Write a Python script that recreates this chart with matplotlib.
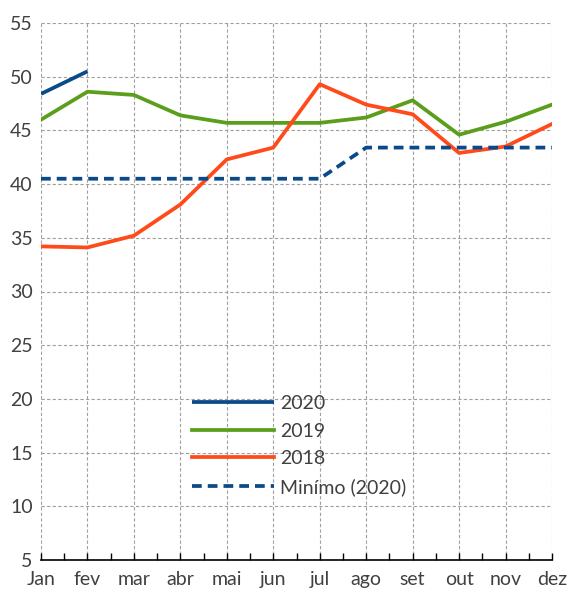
import matplotlib
matplotlib.use("Agg")
import matplotlib.pyplot as plt
import numpy as np

months = ["Jan", "fev", "mar", "abr", "mai", "jun", "jul", "ago", "set", "out", "nov", "dez"]
s2020 = [48.4, 50.5]
s2019 = [46.0, 48.6, 48.3, 46.4, 45.7, 45.7, 45.7, 46.2, 47.8, 44.6, 45.8, 47.4]
s2018 = [34.2, 34.1, 35.2, 38.1, 42.3, 43.4, 49.3, 47.4, 46.5, 42.9, 43.5, 45.6]
minimo = [40.5, 40.5, 40.5, 40.5, 40.5, 40.5, 40.5, 43.4, 43.4, 43.4, 43.4, 43.4]
yticks = [5, 10, 15, 20, 25, 30, 35, 40, 45, 50, 55]

plt.rcParams['font.family'] = ['Lato', 'DejaVu Sans']
txt = '#404040'

fig = plt.figure(figsize=(5.68, 5.92), dpi=100)
ax = fig.add_axes([41/568, 32/592, 511/568, 537/592])

x = np.arange(len(months))
lw = 2.7
ax.plot(x[:len(s2020)], s2020, color='#0b4a8a', lw=lw, label='2020', solid_capstyle='butt')
ax.plot(x, s2019, color='#5a9e1c', lw=lw, label='2019')
ax.plot(x, s2018, color='#ff4a1a', lw=lw, label='2018')
ax.plot(x, minimo, color='#0b4a8a', lw=lw, dashes=(2.6, 1.6), label='Minímo (2020)')

ax.set_xlim(0, 11)
ax.set_ylim(5, 55)
ax.set_yticks(yticks)
ax.set_xticks(x)
ax.set_xticklabels(months)
ax.set_xticks(x[:-1] + 0.5, minor=True)

for s in ['top', 'right', 'left']:
    ax.spines[s].set_visible(False)
ax.spines['bottom'].set_color('black')
ax.spines['bottom'].set_linewidth(1.2)

ax.grid(True, which='major', color='#a0a0a0', lw=0.8, dashes=(3, 2))
ax.tick_params(axis='y', length=0, pad=6, labelsize=14, labelcolor=txt)
ax.tick_params(axis='x', which='both', direction='in', length=5, width=1, color='black',
               pad=8, labelsize=14, labelcolor=txt)

leg = ax.legend(loc='upper left', bbox_to_anchor=(0.28, 0.322), frameon=False,
                fontsize=14, handlelength=4.25, handletextpad=0.3, labelspacing=0.55,
                borderaxespad=0)
for t in leg.get_texts():
    t.set_color(txt)

fig.savefig('out.png', dpi=100)
